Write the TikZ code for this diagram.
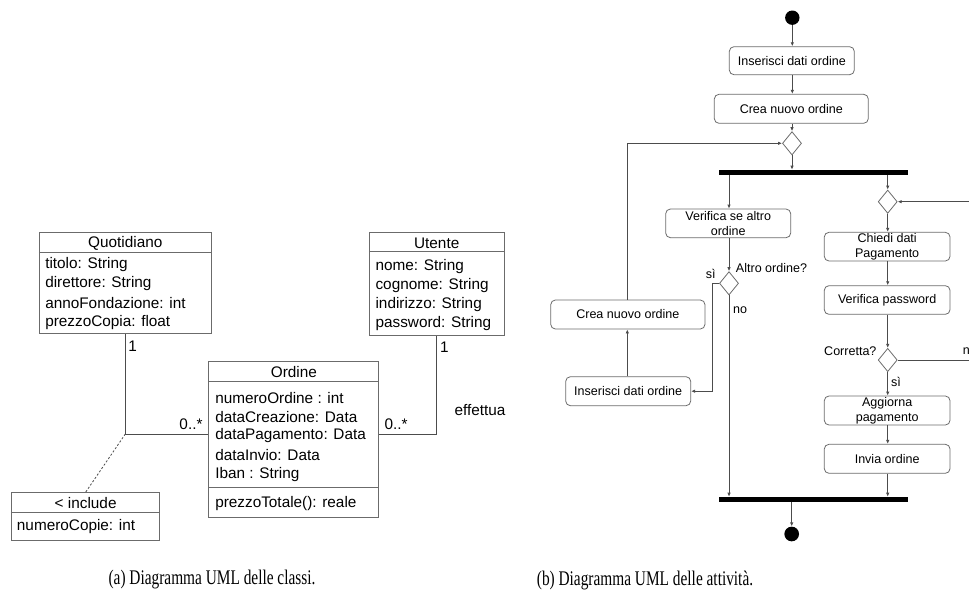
\documentclass[tikz,border=0pt]{standalone}
\usepackage{fontspec}
\setmainfont{Liberation Serif}
\newfontfamily\umlfont{Liberation Sans}
\usetikzlibrary{arrows.meta,shapes.geometric}
\definecolor{linec}{gray}{0.3}
\definecolor{boxc}{gray}{0.42}
\begin{document}
\begin{tikzpicture}[x=0.75pt,y=-0.75pt,
  umlbox/.style={draw=boxc,line width=0.75pt,inner sep=0pt},
  umltxt/.style={inner sep=0pt,font=\umlfont\fontsize{11.5pt}{14.4pt}\selectfont},
  attr/.style={umltxt,anchor=west},
  assoc/.style={draw=linec,line width=0.75pt},
  actbox/.style={draw=boxc,line width=0.6pt,rounded corners=3.5pt,inner sep=0pt,
    font=\umlfont\fontsize{9.4pt}{11.25pt}\selectfont,align=center},
  acttxt/.style={inner sep=0pt,font=\umlfont\fontsize{9.4pt}{11.25pt}\selectfont},
  decis/.style={diamond,draw=boxc,line width=0.6pt,inner sep=0pt,minimum width=14.3pt,minimum height=17.5pt},
  bar/.style={fill=black,inner sep=0pt,minimum width=141.5pt,minimum height=3.75pt},
  dot/.style={circle,fill=black,inner sep=0pt,minimum size=10.8pt},
  flow/.style={draw=linec,line width=0.6pt,-{Latex[length=3pt,width=2.6pt]}},
  flowline/.style={draw=linec,line width=0.6pt},
  capt/.style={inner sep=0pt,font=\fontsize{12pt}{14pt}\selectfont}
]
\clip (0,0) rectangle (969,607);
% ================= UML class diagram =================
\node[umlbox,minimum width=129pt,minimum height=75.5pt] (q) at (125.3,283) {};
\draw[draw=boxc,line width=0.75pt] (q.west |- 0,252) -- (q.east |- 0,252);
\node[umltxt] (qh) at (125.3,243) {Quotidiano};
\node[attr] (q1) at (45,265) {titolo: String};
\node[attr] (q2) at (45,284) {direttore: String};
\node[attr] (q3) at (45,303.3) {annoFondazione: int};
\node[attr] (q4) at (45,322.7) {prezzoCopia: float};

\node[umlbox,minimum width=101pt,minimum height=77.25pt] (u) at (436.7,284.2) {};
\draw[draw=boxc,line width=0.75pt] (u.west |- 0,251.7) -- (u.east |- 0,251.7);
\node[umltxt] (uh) at (436.7,243) {Utente};
\node[attr] (u1) at (375.3,266.7) {nome: String};
\node[attr] (u2) at (375.3,285.5) {cognome: String};
\node[attr] (u3) at (375.3,304.7) {indirizzo: String};
\node[attr] (u4) at (375.3,323.7) {password: String};

\node[umlbox,minimum width=127.3pt,minimum height=117pt] (o) at (293.85,439) {};
\draw[draw=boxc,line width=0.75pt] (o.west |- 0,381.7) -- (o.east |- 0,381.7);
\draw[draw=boxc,line width=0.75pt] (o.west |- 0,487.3) -- (o.east |- 0,487.3);
\node[umltxt] (oh) at (293.85,372.3) {Ordine};
\node[attr] (o1) at (215,397.7) {numeroOrdine : int};
\node[attr] (o2) at (215,416.7) {dataCreazione: Data};
\node[attr] (o3) at (215,436) {dataPagamento: Data};
\node[attr] (o4) at (215,455) {dataInvio: Data};
\node[attr] (o5) at (215,474.3) {Iban : String};
\node[attr] (o6) at (215,503.7) {prezzoTotale(): reale};

\node[umlbox,minimum width=111.5pt,minimum height=35.5pt] (inc) at (85.65,516.35) {};
\draw[draw=boxc,line width=0.75pt] (inc.west |- 0,512.3) -- (inc.east |- 0,512.3);
\node[umltxt] (ih) at (85.65,503.3) {< include};
\node[attr] (i1) at (16.7,526.7) {numeroCopie: int};

\coordinate (qj) at (125.3,434);
\coordinate (uj) at (436.7,434);
\draw[assoc] (q.south) -- (qj) -- (qj -| o.west);
\draw[assoc] (u.south) -- (uj) -- (uj -| o.east);
\draw[draw=linec,line width=0.6pt,dash pattern=on 1.6pt off 1.4pt] (qj) -- (inc.north);
\node[umltxt] (m1) at (132.7,346.7) {1};
\node[umltxt] (m2) at (191,424) {0..*};
\node[umltxt] (m3) at (444.3,347.7) {1};
\node[umltxt] (m4) at (396,424) {0..*};
\node[umltxt] (eff) at (480,410) {effettua};

% ================= UML activity diagram =================
\node[dot] (start) at (792.3,17.7) {};
\node[actbox,minimum width=93.75pt,minimum height=21pt] (a1) at (791.8,60.7) {Inserisci dati ordine};
\node[actbox,minimum width=115.5pt,minimum height=21.75pt] (a2) at (791.3,108.8) {Crea nuovo ordine};
\node[decis] (d1) at (792,143.3) {};
\node[bar] (fork) at (813.35,172.5) {};
\node[actbox,minimum width=93.75pt,minimum height=21.5pt] (v1) at (728.2,223.35) {Verifica se altro\\ordine};
\node[decis] (d3) at (729,283.3) {};
\node[actbox,minimum width=115.7pt,minimum height=21.75pt] (l1) at (627.85,314.5) {Crea nuovo ordine};
\node[actbox,minimum width=93.75pt,minimum height=21.75pt] (l2) at (628.2,391.2) {Inserisci dati ordine};
\node[decis] (d2) at (887.7,201.7) {};
\node[actbox,minimum width=94.3pt,minimum height=21.5pt] (c1) at (887.15,246.65) {Chiedi dati\\Pagamento};
\node[actbox,minimum width=94.3pt,minimum height=21.5pt] (c2) at (887.15,300) {Verifica password};
\node[decis] (d4) at (887.7,360) {};
\node[actbox,minimum width=94.3pt,minimum height=21.75pt] (c3) at (887.15,410.5) {Aggiorna\\pagamento};
\node[actbox,minimum width=94.3pt,minimum height=21.75pt] (c4) at (887.15,458.8) {Invia ordine};
\node[bar] (join) at (813.35,499.5) {};
\node[dot,minimum size=11pt] (end) at (791.7,534) {};

\coordinate (offA) at (980,201.7);
\coordinate (offB) at (980,360);

\draw[flow] (start) -- (start |- a1.north);
\draw[flow] (a1.south -| start) -- (a2.north -| start);
\draw[flow] (a2.south -| d1) -- (d1.north);
\draw[flow] (d1.south) -- (d1.south |- fork.north);
\draw[flow] (fork.south -| 729,0) -- (v1.north -| 729,0);
\draw[flow] (fork.south -| d2.north) -- (d2.north);
\draw[flow] (v1.south -| d3.north) -- (d3.north);
\draw[flow] (d3.west) -- ++(-6.8,0) |- (l2.east);
\draw[flow] (l2.north -| 627.3,0) -- (l1.south -| 627.3,0);
\draw[flow] (l1.north -| 627.3,0) |- (d1.west);
\draw[flow] (d3.south) -- (d3.south |- join.north);
\draw[flow] (d2.south) -- (c1.north -| d2.south);
\draw[flow] (c1.south -| d2.south) -- (c2.north -| d2.south);
\draw[flow] (c2.south -| d4.north) -- (d4.north);
\draw[flow] (d4.south) -- (c3.north -| d4.south);
\draw[flow] (c3.south -| d4.south) -- (c4.north -| d4.south);
\draw[flow] (c4.south -| d4.south) -- (join.north -| d4.south);
\draw[flow] (join.south -| end) -- (end.north);
\draw[flowline] (d4.east) -- (offB);
\draw[flow] (offA) -- (d2.east);

\node[acttxt,anchor=west] (lb1) at (735.7,268.3) {Altro ordine?};
\node[acttxt] (lb2) at (710.7,274.3) {sì};
\node[acttxt] (lb3) at (740,310) {no};
\node[acttxt,anchor=east] (lb4) at (876.7,351) {Corretta?};
\node[acttxt,anchor=west] (lb5) at (962.5,351) {no};
\node[acttxt] (lb6) at (896,381.7) {sì};

% ================= captions =================
\node[capt] (capA) at (212,580) {\scalebox{0.96}[1.3]{(a) Diagramma UML delle classi.}};
\node[capt] (capB) at (645,580) {\scalebox{0.96}[1.3]{(b) Diagramma UML delle attività.}};
\end{tikzpicture}
\end{document}
